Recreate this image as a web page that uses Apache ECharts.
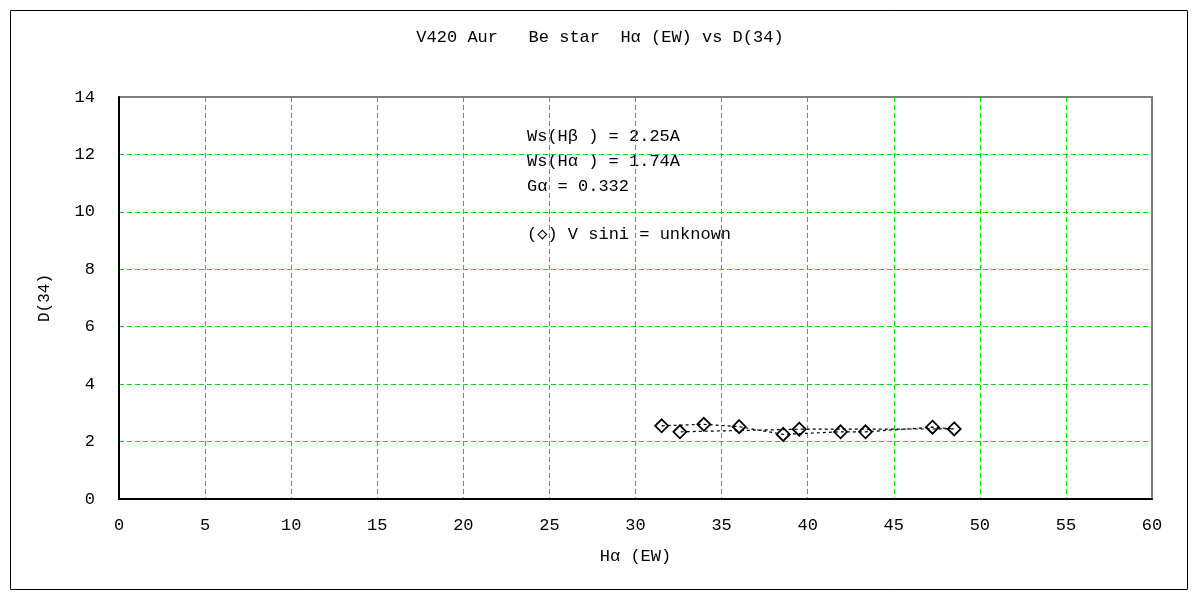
<!DOCTYPE html>
<html>
<head>
<meta charset="utf-8">
<script src="https://cdn.jsdelivr.net/npm/echarts@6/dist/echarts.min.js"></script>
<style>html,body{margin:0;padding:0;background:#fff}#c{width:1200px;height:600px}</style>
</head>
<body>
<div id="c"></div>
<script>
// Observations in time order
const haEW = [31.52, 33.97, 36.02, 38.58, 41.91, 43.36, 47.25, 48.51, 39.51, 32.58];
const d34  = [2.55, 2.60, 2.52, 2.25, 2.34, 2.34, 2.50, 2.44, 2.43, 2.34];
const xTicks = [0, 5, 10, 15, 20, 25, 30, 35, 40, 45, 50, 55, 60];
const yTicks = [0, 2, 4, 6, 8, 10, 12, 14];
const titleText = 'V420 Aur   Be star  Hα (EW) vs D(34)';
const notes = ['Ws(Hβ ) = 2.25A', 'Ws(Hα ) = 1.74A', 'Gα = 0.332', '(◇) V sini = unknown'];

const FONT = '"Liberation Mono", "DejaVu Sans Mono", monospace';
const chart = echarts.init(document.getElementById('c'));
const pts = haEW.map((x, i) => [x, d34[i]]);
const green = '#00e000';
chart.setOption({
  animation: false,
  backgroundColor: '#fff',
  title: {
    text: titleText, left: 'center', top: 24,
    textStyle: {fontFamily: FONT, fontSize: 17, fontWeight: 'normal', color: '#000'}
  },
  grid: {left: 119, right: 48, top: 97, bottom: 101, show: true, borderColor: '#808080', borderWidth: 2, backgroundColor: 'transparent'},
  xAxis: {
    type: 'value', min: xTicks[0], max: xTicks[xTicks.length - 1], interval: 5,
    name: 'Hα (EW)', nameLocation: 'middle', nameGap: 49,
    nameTextStyle: {fontFamily: FONT, fontSize: 17, color: '#000'},
    axisLine: {show: true, onZero: false, lineStyle: {color: '#000', width: 2}},
    axisTick: {show: false},
    axisLabel: {fontFamily: FONT, fontSize: 17, color: '#000', margin: 18},
    splitLine: {show: true, showMinLine: false, showMaxLine: false, lineStyle: {color: green, type: [5, 3], width: 1}}
  },
  yAxis: {
    type: 'value', min: yTicks[0], max: yTicks[yTicks.length - 1], interval: 2,
    name: 'D(34)', nameLocation: 'middle', nameGap: 66, nameRotate: 90,
    nameTextStyle: {fontFamily: FONT, fontSize: 16, color: '#000'},
    axisLine: {show: true, onZero: false, lineStyle: {color: '#000', width: 2}},
    axisTick: {show: false},
    axisLabel: {fontFamily: FONT, fontSize: 17, color: '#000', margin: 24},
    splitLine: {show: true, showMinLine: false, showMaxLine: false, lineStyle: {color: green, type: [5, 3], width: 1}}
  },
  series: [{
    type: 'line', data: pts,
    symbol: 'diamond', symbolSize: [13, 13],
    lineStyle: {color: '#000', width: 1.2, type: [3, 3]},
    itemStyle: {color: 'rgba(255,255,255,0)', borderColor: '#000', borderWidth: 1.8},
    z: 5
  }],
  graphic: [
    {type: 'rect', shape: {x: 10.5, y: 10.5, width: 1177, height: 579}, style: {fill: 'none', stroke: '#000', lineWidth: 1}, z: -1},
    {type: 'group', left: 527, top: 128, children: notes.map((t, i) => ({
      type: 'text', x: 0, y: [0, 25, 50, 98][i],
      style: {text: t, font: '17px ' + FONT, fill: '#000'}
    }))}
  ]
});
</script>
</body>
</html>
